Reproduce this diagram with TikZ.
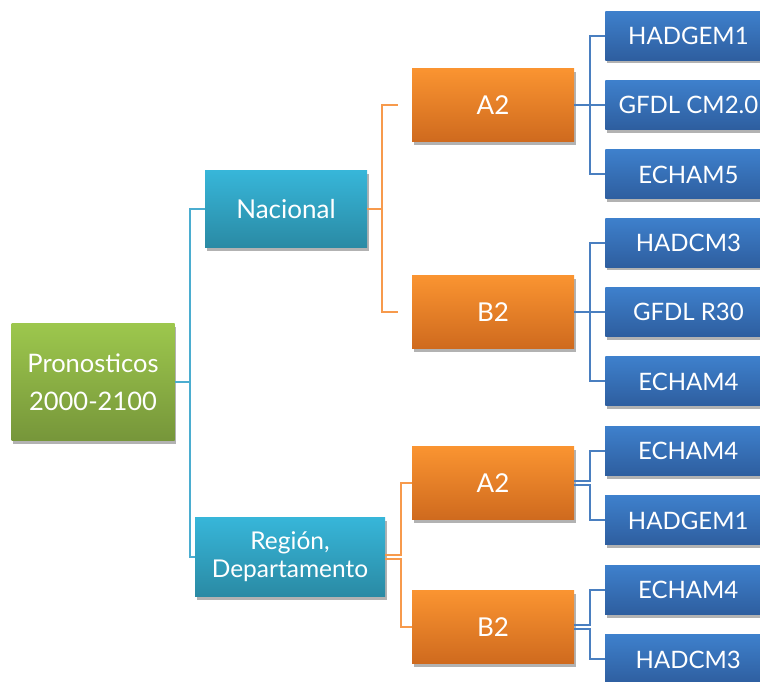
\documentclass[tikz,border=0pt]{standalone}
\usepackage{fontspec}
\setmainfont{Lato}
\usetikzlibrary{positioning,shadows}
\definecolor{greenTop}{HTML}{9DC74D}
\definecolor{greenBot}{HTML}{76963A}
\definecolor{cyanTop}{HTML}{37B6D9}
\definecolor{cyanBot}{HTML}{2A8AA4}
\definecolor{orangeTop}{HTML}{FA9431}
\definecolor{orangeBot}{HTML}{CF6A1E}
\definecolor{blueTop}{HTML}{3E80CC}
\definecolor{blueBot}{HTML}{2E5E9F}
\definecolor{tealLine}{HTML}{4BADD0}
\definecolor{orangeLine}{HTML}{F79A4C}
\definecolor{blueLine}{HTML}{4A7FC0}
\begin{document}
\begin{tikzpicture}[x=1pt, y=1pt,
    box/.style = {rectangle, text=white, align=center, inner sep=0pt,
        drop shadow={shadow xshift=1.5pt, shadow yshift=-3pt, opacity=0.3, fill=black}},
    root/.style = {box, minimum width=163pt, minimum height=117pt,
        top color=greenTop, bottom color=greenBot, font=\fontsize{25.5}{38}\selectfont},
    zone/.style = {box, top color=cyanTop, bottom color=cyanBot},
    scen/.style = {box, minimum width=162pt, minimum height=73pt,
        top color=orangeTop, bottom color=orangeBot, font=\fontsize{26}{30}\selectfont},
    model/.style = {box, minimum width=166pt, minimum height=49pt,
        top color=blueTop, bottom color=blueBot, font=\fontsize{24}{28}\selectfont},
    link/.style = {line width=2pt}]
    \useasboundingbox (0,0) rectangle (760,-681);
    \clip (0,0) rectangle (760,-681);

    % raiz
    \node[root] (root) at (93,-382) {Pronosticos\\2000-2100};

    % nacional
    \node[zone, minimum width=162pt, minimum height=77pt,
        font=\fontsize{26}{30}\selectfont] (nac) at (286,-209) {Nacional};
    \node[scen] (nacA) at (493,-105) {A2};
    \node[scen] (nacB) at (493,-312) {B2};
    \node[model] (m2) [right=31pt of nacA] {GFDL CM2.0};
    \node[model] (m1) [above=20pt of m2] {HADGEM1};
    \node[model] (m3) [below=20pt of m2] {ECHAM5};
    \node[model] (m5) [right=31pt of nacB] {GFDL R30};
    \node[model] (m4) [above=20pt of m5] {HADCM3};
    \node[model] (m6) [below=20pt of m5] {ECHAM4};

    % region
    \node[zone, minimum width=190pt, minimum height=79pt,
        font=\fontsize{24.5}{28}\selectfont] (reg) at (290,-557) {Región,\\Departamento};
    \node[scen] (regA) at (493,-483) {A2};
    \node[scen] (regB) at (493,-627) {B2};
    \node[model, anchor=west] (m7) at (605,-451) {ECHAM4};
    \node[model] (m8) [below=20pt of m7] {HADGEM1};
    \node[model, anchor=west] (m9) at (605,-590) {ECHAM4};
    \node[model] (m10) [below=20pt of m9] {HADCM3};

    % conectores
    \draw[link, tealLine] (root.east) -- ++(15,0) |- (nac.west);
    \draw[link, tealLine] (root.east) -- ++(15,0) |- (reg.west);
    \draw[link, orangeLine, shorten >=14pt] (nac.east) -- ++(15,0) |- (nacA.west);
    \draw[link, orangeLine, shorten >=14pt] (nac.east) -- ++(15,0) |- (nacB.west);
    \draw[link, orangeLine] ([yshift=2pt]reg.east) -- ++(16,0) |- (regA.west);
    \draw[link, orangeLine] ([yshift=-2pt]reg.east) -- ++(16,0) |- (regB.west);
    \foreach \s/\m in {nacA/m1, nacA/m2, nacA/m3, nacB/m4, nacB/m5, nacB/m6}
        \draw[link, blueLine] (\s.east) -- ++(16,0) |- (\m.west);
    \draw[link, blueLine] ([yshift=2pt]regA.east) -- ++(16,0) |- (m7.west);
    \draw[link, blueLine] ([yshift=-2pt]regA.east) -- ++(16,0) |- (m8.west);
    \draw[link, blueLine] ([yshift=2pt]regB.east) -- ++(16,0) |- (m9.west);
    \draw[link, blueLine] ([yshift=-2pt]regB.east) -- ++(16,0) |- (m10.west);
\end{tikzpicture}
\end{document}
